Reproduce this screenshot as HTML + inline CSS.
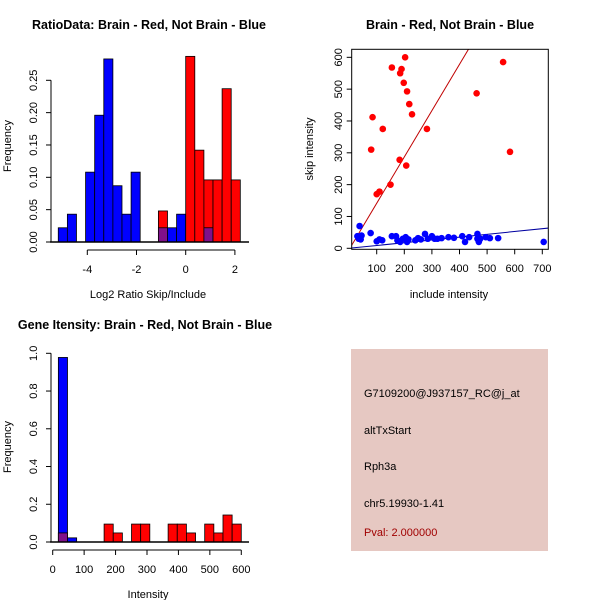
<!DOCTYPE html>
<html><head><meta charset="utf-8"><style>
body{margin:0;background:#fff}
svg{display:block;font-family:"Liberation Sans",Helvetica,sans-serif}
</style></head><body>
<svg id="c" width="600" height="600" xmlns="http://www.w3.org/2000/svg">
<rect width="600" height="600" fill="#fff"/>
<text x="149" y="29" font-size="12.5" font-weight="bold" text-anchor="middle">RatioData: Brain - Red, Not Brain - Blue</text>
<text x="450" y="29" font-size="12.5" font-weight="bold" text-anchor="middle">Brain - Red, Not Brain - Blue</text>
<text x="145" y="329" font-size="12.5" font-weight="bold" text-anchor="middle">Gene Itensity: Brain - Red, Not Brain - Blue</text>
<g id="p1"></g>
<g id="p2"></g>
<g id="p3"></g>
<g>
<rect x="351" y="349" width="197" height="202" fill="#e6c8c2"/>
<g font-size="11">
<text x="364" y="397">G7109200@J937157_RC@j_at</text>
<text x="364" y="434">altTxStart</text>
<text x="364" y="470">Rph3a</text>
<text x="364" y="507">chr5.19930-1.41</text>
<text x="364" y="536" fill="#a00000">Pval: 2.000000</text>
</g></g>
</svg>
<script>
// Plot 1 data
const ratioBinStart = -5.18, ratioBinWidth = 0.37;
const ratioBlue = [0.022,0.043,0,0.108,0.196,0.283,0.087,0.043,0.108,0,0,0.022,0.022,0.043,0,0,0.022,0,0,0];
const ratioRed  = [0,0,0,0,0,0,0,0,0,0,0,0.048,0,0,0.287,0.142,0.096,0.096,0.237,0.096];
const ratioYTicks = [0,0.05,0.10,0.15,0.20,0.25];
const ratioYLabels = ["0.00","0.05","0.10","0.15","0.20","0.25"];
const ratioXTicks = [-4,-2,0,2];
// Plot 2 data
const redX = [80,85,122,100,110,150,155,185,190,183,198,203,210,207,218,228,282,462,558,583];
const redY = [310,412,375,170,178,200,568,550,563,278,520,600,493,260,453,421,375,487,585,303];
const blueX = [38,35,40,45,42,78,100,110,120,155,170,175,185,195,205,210,215,240,250,260,275,285,300,310,320,335,360,380,410,420,435,465,465,470,475,495,510,540,705,30];
const blueY = [70,30,35,40,28,48,22,28,25,38,38,25,20,30,35,20,28,25,32,28,45,30,38,30,30,32,35,33,38,20,35,45,30,20,30,35,32,32,20,38];
const redFit = [-4,1.455];
const blueFit = [0,0.088];
const scatXTicks = [100,200,300,400,500,600,700];
const scatYTicks = [0,100,200,300,400,500,600];
// Plot 3 data
const intBinStart = 18, intBinWidth = 29.1;
const intBlue = [0.978,0.022,0,0,0,0,0,0,0,0,0,0,0,0,0,0,0,0,0,0];
const intRed  = [0.048,0,0,0,0,0.095,0.048,0,0.095,0.095,0,0,0.095,0.095,0.048,0,0.095,0.048,0.143,0.095];
const intYTicks = [0,0.2,0.4,0.6,0.8,1.0];
const intYLabels = ["0.0","0.2","0.4","0.6","0.8","1.0"];
const intXTicks = [0,100,200,300,400,500,600];

const NS="http://www.w3.org/2000/svg";
function mk(parent,tag,attrs,txt){const e=document.createElementNS(NS,tag);for(const k in attrs)e.setAttribute(k,attrs[k]);if(txt!==undefined)e.textContent=txt;parent.appendChild(e);return e;}

function hist(g,start,w,blue,red,sx,sy,base){
  for(let i=0;i<blue.length;i++){
    const x0=sx(start+i*w),x1=sx(start+(i+1)*w);
    if(blue[i]>0){const r=mk(g,'rect',{x:x0,y:sy(blue[i]),width:x1-x0,height:base-sy(blue[i]),fill:'#0000ff',stroke:'#000','stroke-width':0.8});
      
      }
    if(red[i]>0){const r=mk(g,'rect',{x:x0,y:sy(red[i]),width:x1-x0,height:base-sy(red[i]),fill:'#ff0000',stroke:'#000','stroke-width':0.8});
      
      }
    const m=Math.min(blue[i],red[i]);
    if(m>0){const r=mk(g,'rect',{x:x0,y:sy(m),width:x1-x0,height:base-sy(m),fill:'#80108a',stroke:'#000','stroke-width':0.8});
      
      }
  }
}
function yAxis(g,ax,ticks,labels,sy,lx){
  mk(g,'line',{x1:ax,x2:ax,y1:sy(ticks[0]),y2:sy(ticks[ticks.length-1]),stroke:'#000'});
  ticks.forEach((t,i)=>{const y=sy(t);mk(g,'line',{x1:ax-5,x2:ax,y1:y,y2:y,stroke:'#000'});
    const tx=mk(g,'text',{x:lx,y:y,'font-size':11,'text-anchor':'middle',transform:`rotate(-90 ${lx} ${y})`},labels[i]);
    
    });
}
function xAxis(g,ay,ticks,sx,ly){
  mk(g,'line',{x1:sx(ticks[0]),x2:sx(ticks[ticks.length-1]),y1:ay,y2:ay,stroke:'#000'});
  ticks.forEach(t=>{const x=sx(t);mk(g,'line',{x1:x,x2:x,y1:ay,y2:ay+5,stroke:'#000'});
    const tx=mk(g,'text',{x:x,y:ly,'font-size':11,'text-anchor':'middle'},String(t));
    
    });
}

// Plot 1
(function(){
  const g=document.getElementById('p1');
  const sx=v=>185.7+v*24.6, sy=v=>242-v*646.8;
  hist(g,ratioBinStart,ratioBinWidth,ratioBlue,ratioRed,sx,sy,242);
  mk(g,'line',{x1:50,x2:249,y1:242,y2:242,stroke:'#000','stroke-width':1.5});
  yAxis(g,51,ratioYTicks,ratioYLabels,sy,37);
  xAxis(g,250,ratioXTicks,sx,273);
  const t=mk(g,'text',{x:148,y:298,'font-size':11,'text-anchor':'middle'},'Log2 Ratio Skip/Include');
  
  
  const t2=mk(g,'text',{x:11,y:146,'font-size':11,'text-anchor':'middle',transform:'rotate(-90 11 146)'},'Frequency');
  
  
})();

// Plot 2
(function(){
  const g=document.getElementById('p2');
  const sx=v=>349.1+v*0.276, sy=v=>248.3-v*0.3183;
  const L=351.7,R=548.3,T=49.3,B=249.3;
  const cp=mk(g,'clipPath',{id:'clip2'});mk(cp,'rect',{x:L,y:T,width:R-L,height:B-T});
  const inner=mk(g,'g',{'clip-path':'url(#clip2)'});
  const rl=mk(inner,'line',{x1:sx(0),y1:sy(redFit[0]),x2:sx(800),y2:sy(redFit[0]+redFit[1]*800),stroke:'#c00000','stroke-width':1});
  
  
  const bl=mk(inner,'line',{x1:sx(0),y1:sy(blueFit[0]),x2:sx(800),y2:sy(blueFit[0]+blueFit[1]*800),stroke:'#0000a0','stroke-width':1});
  
  
  for(let i=0;i<blueX.length;i++){const c=mk(inner,'circle',{cx:sx(blueX[i]),cy:sy(blueY[i]),r:3.3,fill:'#0000ff'});
    
    }
  for(let i=0;i<redX.length;i++){const c=mk(inner,'circle',{cx:sx(redX[i]),cy:sy(redY[i]),r:3.3,fill:'#ff0000'});
    
    }
  mk(g,'rect',{x:L,y:T,width:R-L,height:B-T,fill:'none',stroke:'#000'});
  scatYTicks.forEach(t=>{const y=sy(t);mk(g,'line',{x1:L-5,x2:L,y1:y,y2:y,stroke:'#000'});
    const tx=mk(g,'text',{x:342,y:y,'font-size':11,'text-anchor':'middle',transform:`rotate(-90 342 ${y})`},String(t));
    
    });
  scatXTicks.forEach(t=>{const x=sx(t);mk(g,'line',{x1:x,x2:x,y1:B,y2:B+5,stroke:'#000'});
    const tx=mk(g,'text',{x:x,y:272,'font-size':11,'text-anchor':'middle'},String(t));
    
    });
  const t=mk(g,'text',{x:449,y:298,'font-size':11,'text-anchor':'middle'},'include intensity');
  
  
  const t2=mk(g,'text',{x:313,y:149,'font-size':11,'text-anchor':'middle',transform:'rotate(-90 313 149)'},'skip intensity');
  
  
})();

// Plot 3
(function(){
  const g=document.getElementById('p3');
  const sx=v=>52.7+v*0.3143, sy=v=>542-v*188.7;
  hist(g,intBinStart,intBinWidth,intBlue,intRed,sx,sy,542);
  mk(g,'line',{x1:50,x2:249,y1:542,y2:542,stroke:'#000','stroke-width':1.5});
  yAxis(g,51,intYTicks,intYLabels,sy,37);
  xAxis(g,550,intXTicks,sx,573);
  const t=mk(g,'text',{x:148,y:598,'font-size':11,'text-anchor':'middle'},'Intensity');
  
  
  const t2=mk(g,'text',{x:11,y:447,'font-size':11,'text-anchor':'middle',transform:'rotate(-90 11 447)'},'Frequency');
  
  
})();
</script>
</body></html>
